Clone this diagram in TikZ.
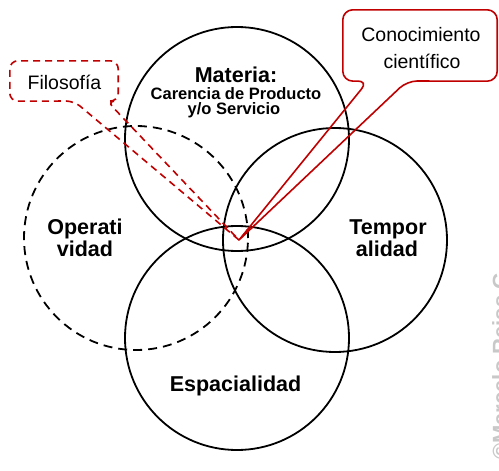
\documentclass[tikz,border=0pt]{standalone}
\usepackage{fontspec}
\setmainfont{Liberation Sans}
\definecolor{callred}{RGB}{192,0,0}
\definecolor{wmgray}{RGB}{200,200,200}
\tikzset{
  venn/.style={circle, draw=black, line width=1.8pt, minimum size=224pt, inner sep=0pt},
  vennd/.style={venn, dash pattern=on 9pt off 6pt},
  biglabel/.style={anchor=base, inner sep=0pt, font=\fontsize{21.5}{24}\selectfont\bfseries},
  sublabel/.style={anchor=base, inner sep=0pt, font=\fontsize{16.5}{18}\selectfont\bfseries},
  calltext/.style={anchor=base, inner sep=0pt, font=\fontsize{19.5}{22}\selectfont},
  boxarea/.style={rectangle, inner sep=0pt},
  callsolid/.style={draw=callred, line width=1.6pt, rounded corners=10pt, line cap=round},
  calldash/.style={draw=callred, line width=1.6pt, rounded corners=8pt, dash pattern=on 7pt off 5pt},
}
\begin{document}
\begin{tikzpicture}[x=1pt,y=-1pt]
\useasboundingbox (0,0) rectangle (499,471);
% circles
\node[venn]  (mat) at (237,139) {};
\node[vennd] (ope) at (136,238) {};
\node[venn]  (tem) at (335,240) {};
\node[venn]  (esp) at (237,338) {};
% labels
\node[biglabel] (mat1) at (236,82.5) {Materia:};
\node[sublabel] (mat2) at (236,99.5) {Carencia de Producto};
\node[sublabel] (mat3) at (234,114) {y/o Servicio};
\node[biglabel] (ope1) at (85,234.5) {Operati};
\node[biglabel] (ope2) at (85,256.7) {vidad};
\node[biglabel] (tem1) at (388,234.5) {Tempor};
\node[biglabel] (tem2) at (387,256.7) {alidad};
\node[biglabel] (esp1) at (235.5,391.7) {Espacialidad};
% callouts
\coordinate (tip) at (239,240);
\node[boxarea, minimum width=108pt, minimum height=40pt] (filo) at (64,81) {};
\coordinate (fb1) at (74,101);
\coordinate (fb2) at (107,101);
\draw[calldash] (tip) -- (fb1) -- (filo.south west) -- (filo.north west) -- (filo.north east) -- (filo.south east) -- (fb2) -- (tip);
\node[calltext] (filot) at (64.5,89) {Filosofía};
\node[boxarea, minimum width=154pt, minimum height=71pt] (cono) at (420,45.5) {};
\coordinate (cb1) at (368,81);
\coordinate (cb2) at (407,81);
\draw[callsolid] (tip) -- (cb1) -- (cono.south west) -- (cono.north west) -- (cono.north east) -- (cono.south east) -- (cb2) -- (tip);
\node[calltext] (cono1) at (421,41.7) {Conocimiento};
\node[calltext] (cono2) at (422,68.3) {científico};
% watermark
\node[rotate=90, anchor=base west, inner sep=0pt, text=wmgray, font=\fontsize{22}{24}\selectfont\bfseries] (wm) at (508,460) {©Marcelo Reiss G};
\end{tikzpicture}
\end{document}
